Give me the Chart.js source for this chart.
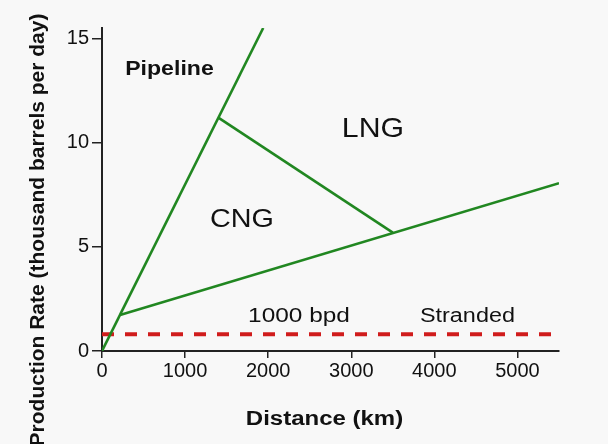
<!DOCTYPE html>
<html lang="en">
<head>
  <meta charset="UTF-8">
  <title>Production Rate vs Distance</title>
  <script src="https://cdn.jsdelivr.net/npm/chart.js"></script>
  <style>
    body {
      margin: 0;
      background: #f8f8f8;
      font-family: Arial, "Liberation Sans", sans-serif;
    }
    #wrap {
      width: 608px;
      height: 444px;
    }
  </style>
</head>
<body>
  <div id="wrap"><canvas id="myChart" width="608" height="444"></canvas></div>

  <script>
    // boundary lines, [distance km, thousand bpd]
    const pipelineLine = [[0, 0], [1940, 15.5]];
    const cngLowerLine = [[217, 1.73], [5500, 8.05]];
    const cngLngLine = [[1400, 11.2], [3500, 5.68]];
    const strandedLine = [[0, 0.8], [5500, 0.8]];

    const xTicks = [0, 1000, 2000, 3000, 4000, 5000];
    const yTicks = [0, 5, 10, 15];

    const xTitle = 'Distance (km)';
    const yTitle = 'Production Rate (thousand barrels per day)';

    // region labels: text, x, y (baseline), font size, bold, horizontal stretch
    const regionLabels = [
      ['Pipeline', 812, 13.24, 21, true, 1.1],
      ['LNG', 3261, 10.27, 28, false, 1.08],
      ['CNG', 1685, 5.95, 25, false, 1.15],
      ['1000 bpd', 2371, 1.39, 20, false, 1.22],
      ['Stranded', 4398, 1.39, 20, false, 1.17]
    ];

    const green = '#218721';
    const FONT = 'Arial, "Liberation Sans", sans-serif';

    function toPts(arr) {
      return arr.map(p => ({ x: p[0], y: p[1] }));
    }

    function stretchText(c, text, x, y, sx) {
      c.save();
      c.translate(x, y);
      c.scale(sx, 1);
      c.fillText(text, 0, 0);
      c.restore();
    }

    const labelPlugin = {
      id: 'regionLabels',
      afterDatasetsDraw(chart) {
        const c = chart.ctx;
        const xs = chart.scales.x, ys = chart.scales.y;
        const area = chart.chartArea;
        c.save();
        c.fillStyle = '#111';
        c.textAlign = 'center';
        c.textBaseline = 'alphabetic';
        regionLabels.forEach(l => {
          c.font = (l[4] ? 'bold ' : '') + l[3] + 'px ' + FONT;
          stretchText(c, l[0], xs.getPixelForValue(l[1]), ys.getPixelForValue(l[2]), l[5]);
        });

        // axis titles
        c.font = 'bold 20px ' + FONT;
        stretchText(c, xTitle, (area.left + area.right) / 2 - 6, area.bottom + 74, 1.2);

        c.font = 'bold 21px ' + FONT;
        c.save();
        c.translate(44, 230);
        c.rotate(-Math.PI / 2);
        c.fillText(yTitle, 0, 0);
        c.restore();
        c.restore();
      }
    };

    const ctx = document.getElementById('myChart').getContext('2d');
    const myChart = new Chart(ctx, {
      type: 'scatter',
      data: {
        datasets: [
          { data: toPts(pipelineLine), showLine: true, borderColor: green, borderWidth: 2.6, pointRadius: 0 },
          { data: toPts(cngLowerLine), showLine: true, borderColor: green, borderWidth: 2.6, pointRadius: 0 },
          { data: toPts(cngLngLine), showLine: true, borderColor: green, borderWidth: 2.6, pointRadius: 0 },
          { data: toPts(strandedLine), showLine: true, borderColor: '#d01c1c', borderWidth: 4, borderDash: [12, 11], pointRadius: 0 }
        ]
      },
      plugins: [labelPlugin],
      options: {
        responsive: false,
        animation: false,
        layout: { padding: { top: 28, right: 49, left: 0, bottom: 0 } },
        plugins: {
          legend: { display: false },
          tooltip: { enabled: false }
        },
        scales: {
          x: {
            type: 'linear',
            min: 0,
            max: 5500,
            afterFit(scale) { scale.height = 93; },
            afterBuildTicks(scale) { scale.ticks = xTicks.map(v => ({ value: v })); },
            grid: { drawOnChartArea: false, drawTicks: true, tickLength: 7, color: '#222', lineWidth: 1.5 },
            border: { display: true, color: '#222', width: 2 },
            ticks: {
              color: '#111',
              font: { size: 20, family: FONT },
              padding: 1,
              maxRotation: 0,
              callback: v => String(v)
            },
            title: { display: false }
          },
          y: {
            type: 'linear',
            min: 0,
            max: 15.5,
            afterFit(scale) { scale.width = 102; },
            afterBuildTicks(scale) { scale.ticks = yTicks.map(v => ({ value: v })); },
            grid: { drawOnChartArea: false, drawTicks: true, tickLength: 10, color: '#222', lineWidth: 1.5 },
            border: { display: true, color: '#222', width: 2 },
            ticks: { color: '#111', font: { size: 20, family: FONT }, padding: 3 },
            title: { display: false }
          }
        }
      }
    });
  </script>
</body>
</html>
